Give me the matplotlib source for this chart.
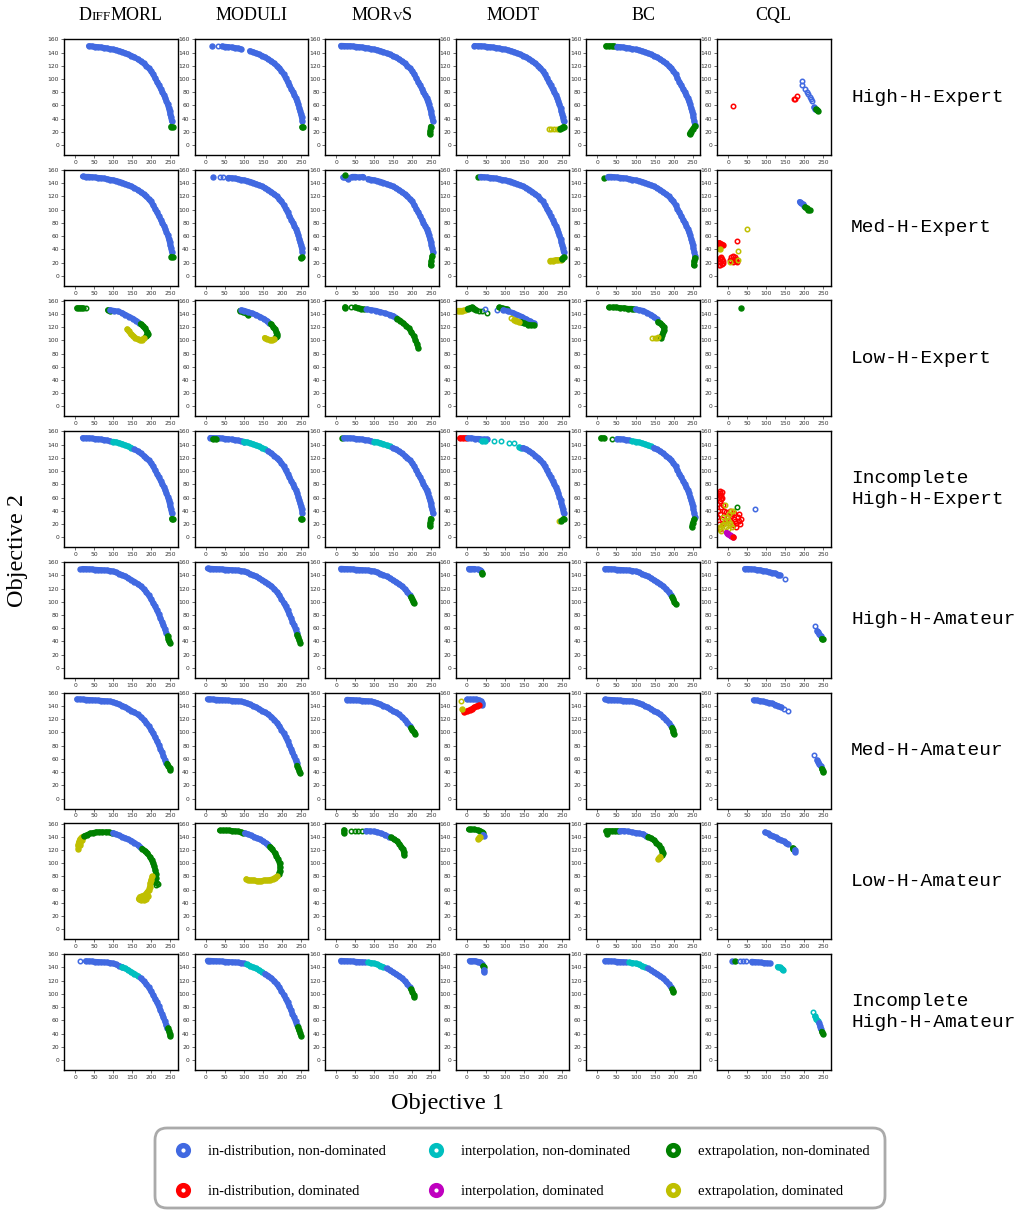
import matplotlib
matplotlib.use('Agg')
import matplotlib.pyplot as plt
from matplotlib.patches import FancyBboxPatch

# column / row labels
METHODS = ['DiffMORL', 'MODULI', 'MORvS', 'MODT', 'BC', 'CQL']
DATASETS = ['High-H-Expert', 'Med-H-Expert', 'Low-H-Expert', 'Incomplete\nHigh-H-Expert',
            'High-H-Amateur', 'Med-H-Amateur', 'Low-H-Amateur', 'Incomplete\nHigh-H-Amateur']

# point categories
CATS = ['ind', 'ind_d', 'int', 'int_d', 'ext', 'ext_d']
CAT_LABELS = ['in-distribution, non-dominated', 'in-distribution, dominated',
              'interpolation, non-dominated', 'interpolation, dominated',
              'extrapolation, non-dominated', 'extrapolation, dominated']
COLORS = {'ind': 'royalblue', 'ind_d': 'r', 'int': 'c', 'int_d': 'm', 'ext': 'g', 'ext_d': 'y'}

# Pareto fronts (objective 1, objective 2)
EXP_X = [12, 20, 28, 36, 44, 52, 60, 68, 76, 84, 92, 100, 108, 116, 124, 132, 140, 148, 156, 164,
         172, 180, 187, 193, 199, 205, 210, 215, 220, 225, 229, 233, 237, 240, 243, 246, 248, 250,
         252, 254, 256]
EXP_Y = [150.5, 150.3, 150, 150, 149.5, 149, 148.5, 148, 147.3, 146.5, 145.5, 144.7, 143.8, 142.5,
         141, 139, 137.3, 135.3, 133, 130.3, 127, 123.5, 120, 116.5, 112.5, 107, 101.5, 96, 90.5,
         85, 80.5, 76, 71, 66.5, 61.5, 56, 51.5, 47, 42, 36, 30]
AMA_X = [5, 12, 20, 28, 36, 44, 52, 60, 68, 76, 84, 92, 100, 108, 116, 124, 132, 140, 148, 156,
         164, 172, 180, 187, 193, 199, 205, 210, 215, 220, 224, 228, 232, 236, 239, 242, 245, 248, 250]
AMA_Y = [150.5, 150.3, 150, 149.8, 149.5, 149.2, 148.8, 148.5, 148.2, 147.8, 147.5, 147, 146,
         144.5, 142.5, 140.5, 138.5, 136, 133, 130.5, 127.5, 124, 119.5, 115, 110, 104.5, 98.5, 93,
         87, 81, 75.5, 70, 64.5, 58.5, 53.5, 48.5, 44, 40, 36.5]
FRONTS = {'E': (EXP_X, EXP_Y), 'A': (AMA_X, AMA_Y)}

# segments: (cat, front, x_from, x_to) or (cat, xs, ys, style)  style 'b' = dense band, 'o' = open dots
HIGH_H_EXPERT = [
    [('ind', 'E', 36, 254), ('ext', [252, 256], [28, 27], 'b')],
    [('ind', [16], [150], 'b'), ('ind', [33], [150], 'o'), ('ind', 'E', 44, 92), ('ind', 'E', 116, 254),
     ('ext', [253, 256], [28, 28], 'b')],
    [('ind', 'E', 12, 254), ('ext', [248, 247, 246], [28, 22, 17], 'b')],
    [('ind', 'E', 20, 100), ('ind', 'E', 108, 254), ('ext_d', [215, 222, 229, 236, 241], [24, 24, 24, 24, 24], 'o'),
     ('ext', [245, 250, 254], [25, 26, 28], 'b')],
    [('ext', [22, 30, 38, 44], [150, 150, 150, 150], 'b'), ('ind', 'E', 48, 256),
     ('ext', [256, 250, 245, 242], [29, 24, 20, 17], 'b')],
    [('ind_d', [14], [59], 'o'), ('ind_d', [174, 176, 181], [69, 70, 74], 'o'),
     ('ind', [194, 194, 203, 208, 211, 214, 217, 220], [97, 91, 85, 80, 77, 73, 70, 66], 'o'),
     ('ind', [226, 229], [57, 55], 'b'), ('ext', [231, 234, 237], [54, 53, 52], 'b')],
]
MED_H_EXPERT = [
    [('ind', 'E', 20, 254), ('ext', [253, 256], [29, 28], 'b')],
    [('ind', [18], [150], 'b'), ('ind', [38, 46], [150, 150], 'o'), ('ind', 'E', 60, 254),
     ('ext', [250, 254], [27, 28], 'b')],
    [('ind', [18, 30, 42, 50, 60, 70], [149, 147, 150, 150, 149, 150], 'b'), ('ext', [23], [152], 'b'),
     ('ind', 'E', 84, 254), ('ext', [252, 250, 248], [30, 23, 16], 'b')],
    [('ext', [29], [150], 'b'), ('ind', 'E', 36, 254), ('ind', [113], [143], 'o'),
     ('ext_d', [219, 226, 233, 240, 246], [23, 23, 24, 24, 24], 'b'), ('ext', [250, 254], [26, 28], 'b')],
    [('ext', [17], [148], 'b'), ('ind', 'E', 28, 256), ('ext', [256, 254, 253], [27, 22, 16], 'b')],
    [('ind_d', [-23, -18, -14, -20], [50, 48, 47, 46], 'b'), ('ext_d', [-20], [41], 'b'),
     ('ind_d', [24], [53], 'o'),
     ('ind_d', [-24, -22, -20, -18, -15, -12, -16, -20, -22, -13], [17, 21, 25, 28, 25, 22, 18, 16, 27, 19], 'o'),
     ('ind_d', [4, 8, 12, 16, 20, 24, 14, 8, 18, 22], [24, 28, 30, 26, 23, 21, 21, 22, 29, 25], 'o'),
     ('ext_d', [4, 27, 26, 50], [21, 24, 37, 71], 'o'),
     ('ind', [188, 192, 196, 200], [112, 110, 108, 106], 'b'),
     ('ext', [202, 206, 210, 214], [104, 102, 100, 99], 'b')],
]
LOW_H_EXPERT = [
    [('ext', [5, 10, 16, 22], [149, 149, 149, 149], 'b'), ('ext', [30], [149], 'o'),
     ('ext', [86, 92], [146, 145], 'b'),
     ('ind', [92, 102, 112, 122, 132, 142, 152, 160, 168], [146, 145, 144, 142, 139, 136, 133, 130, 127], 'b'),
     ('ext', [172, 178, 184, 189, 191, 190, 186], [125, 122, 118, 113, 110, 108, 106], 'b'),
     ('ext_d', [137, 141, 146, 152, 158, 164, 170, 176, 180], [117, 114, 110, 107, 104, 102, 101, 101, 103], 'b')],
    [('ext', [90, 98, 106, 112], [145, 143, 141, 139], 'b'),
     ('ind', [94, 102, 112, 122, 132, 142, 152, 160, 167], [146, 145, 143, 141, 139, 136, 133, 130, 127], 'b'),
     ('ext', [171, 177, 182, 186, 188, 187, 184], [125, 121, 117, 113, 110, 107, 105], 'b'),
     ('ext_d', [155, 162, 168, 174, 180], [104, 102, 101, 101, 102], 'b')],
    [('ext', [24, 24], [151, 149], 'b'), ('ext', [40], [150], 'o'),
     ('ext', [50, 58, 66, 73], [150, 149, 148, 147], 'b'), ('ind', [77], [147], 'o'),
     ('ind', [81, 92, 104, 116, 128, 140, 150, 158], [147, 146, 145, 143, 141, 139, 137, 134], 'b'),
     ('ext', [160, 168, 176, 184, 191, 197, 203, 208, 212, 215], [133, 130, 126, 122, 118, 113, 107, 101, 95, 89], 'b')],
    [('ext_d', [-24, -18, -12, -6], [145, 145, 145, 146], 'b'),
     ('ext', [2, 8, 14, 20, 24], [148, 149, 150, 148, 146], 'b'),
     ('ext', [32, 41, 52], [145, 144, 142], 'o'), ('ind', [47, 80], [147, 146], 'o'),
     ('ext', [85, 92, 100, 106], [150, 149, 148, 147], 'b'),
     ('ind', [96, 108, 120, 132, 144, 156, 166, 176], [146, 144, 142, 139, 136, 132, 129, 126], 'b'),
     ('ext', [141, 150, 160, 168, 176], [128, 126, 124, 123, 123], 'b'),
     ('ext_d', [115], [134], 'o'), ('ext_d', [124, 130, 137], [131, 130, 128], 'b')],
    [('ext', [30, 40, 50, 60, 70, 80, 90, 96], [150, 150, 150, 149, 149, 148, 148, 147], 'b'),
     ('ind', [100, 110, 120, 130, 140, 148, 156], [147, 146, 145, 142, 139, 136, 132], 'b'),
     ('ext', [159, 165, 170, 174, 175, 173, 170, 166], [128, 126, 123, 120, 116, 112, 108, 104], 'b'),
     ('ext_d', [144, 150, 156, 160], [103, 103, 103, 105], 'o')],
    [('ext', [33], [149], 'b')],
]
INC_HIGH_H_EXPERT = [
    [('ind', 'E', 17, 92), ('int', 'E', 96, 152), ('ind', 'E', 156, 254), ('ext', [254, 256], [28, 27], 'b')],
    [('ind', 'E', 12, 100), ('ext', [20, 28], [149, 149], 'b'), ('int', 'E', 100, 156),
     ('ind', 'E', 164, 254), ('ext', [250, 254], [28, 28], 'b')],
    [('ext', [16], [150], 'b'), ('ind', 'E', 20, 92), ('int', 'E', 100, 140), ('ind', 'E', 148, 254),
     ('ext', [248, 247, 246], [28, 22, 17], 'b')],
    [('ind_d', [-17, -10, -3], [150, 150, 150], 'b'),
     ('ind', [2, 12, 22, 32, 44, 54], [150, 150, 149, 149, 148, 148], 'b'),
     ('int', [40, 47], [146, 146], 'b'), ('int', [71, 89, 111, 124], [146, 145, 143, 142], 'o'),
     ('int', [138, 142], [136, 135], 'b'), ('ind', 'E', 148, 254),
     ('ext_d', [241], [25], 'o'), ('ext', [248, 254], [25, 28], 'b')],
    [('ext', [9, 16], [150, 150], 'b'), ('ext', [39], [148], 'o'), ('ind', 'E', 52, 84),
     ('int', 'E', 87, 144), ('ind', 'E', 148, 256), ('ext', [254, 250, 248], [27, 21, 16], 'b')],
    [('ind_d', [-22, -20, -18, -22, -19, -21, -16, -17], [70, 67, 64, 62, 58, 55, 60, 68], 'o'),
     ('ind_d', [-26, -28, -25, -22, -20, -15, -10, -5, 0, 5, 10, 15, 20, 25, 30, 35, 32, 22, 12, -18,
                -10, 5, 15, 28, -28, -12, 8, 18],
      [40, 30, 20, 12, 35, 28, 22, 38, 30, 25, 35, 28, 22, 30, 25, 28, 20, 15, 18, 45,
       40, 40, 37, 35, 50, 48, 32, 25], 'o'),
     ('ext_d', [-24, -20, -15, -10, -5, 0, 5, -8, -3, 2, 8, 4, -18, 10, -12, 0],
      [12, 15, 18, 20, 15, 12, 18, 25, 30, 35, 40, 22, 10, 15, 30, 26], 'o'),
     ('ext_d', [-9, 12], [48, 40], 'o'),
     ('int_d', [-4, 0, 4, 8, 12], [7, 5, 3, 2, 1], 'b'), ('ind_d', [14], [0], 'b'),
     ('ext', [24], [46], 'o'), ('ind', [72], [43], 'o')],
]
HIGH_H_AMATEUR = [
    [('ind', [13], [150], 'b'), ('ind', 'A', 20, 240), ('ext', [243, 245, 247, 250], [48, 44, 40, 37], 'b')],
    [('ind', 'A', 5, 239), ('ext', [240, 243, 246, 249], [50, 46, 42, 38], 'b')],
    [('ind', 'A', 12, 193), ('ext', [196, 199, 201, 203], [107, 104, 101, 98], 'b')],
    [('ind', [5, 12, 20, 28, 34, 38], [150, 150, 150, 149, 148, 146], 'b'), ('ext', [40, 41], [144, 142], 'b')],
    [('ind', 'A', 20, 193), ('ext', [196, 199, 202, 205], [107, 104, 100, 97], 'b')],
    [('ind', [44, 52, 60, 68, 76, 84, 92, 100, 108, 116, 124, 132, 137],
      [150, 150, 149.5, 149, 148.5, 148, 147, 146, 145, 144, 143, 141, 140], 'b'),
     ('ind', [150, 227], [135, 63], 'o'), ('ind', [234, 237, 240, 243], [56, 54, 51, 48], 'b'),
     ('ext', [246, 249], [44, 43], 'b')],
]
MED_H_AMATEUR = [
    [('ind', 'A', 3, 240), ('ext', [242, 245, 248, 250], [53, 49, 46, 43], 'b')],
    [('ind', 'A', 5, 239), ('ext', [240, 243, 246, 249], [50, 46, 42, 38], 'b')],
    [('ind', 'A', 27, 193), ('ext', [196, 200, 204, 207], [107, 104, 101, 98], 'b')],
    [('ind', [0, 8, 16, 24, 32, 38, 41, 40], [150, 150, 150, 150, 149, 147, 144, 141], 'b'),
     ('ind_d', [-7, 0, 7, 14, 20, 26, 32], [131, 132, 134, 136, 138, 140, 141], 'b'),
     ('ext_d', [-16], [148], 'o'), ('ext_d', [-13], [136], 'b')],
    [('ind', 'A', 20, 193), ('ext', [196, 198, 199, 200], [107, 104, 101, 98], 'b')],
    [('ind', [67, 75, 83, 91, 99, 107, 115, 124, 132, 140], [149, 148.5, 148, 147, 146, 145, 144, 142, 140, 138], 'b'),
     ('ind', [148, 157, 226], [136, 132, 66], 'o'), ('ind', [234, 237, 240, 243], [58, 55, 52, 49], 'b'),
     ('ext', [246, 249, 250], [45, 42, 40], 'b')],
]
LOW_H_AMATEUR = [
    [('ext_d', [9, 8, 10, 13, 17, 22, 18, 14], [122, 127, 132, 136, 139, 140, 135, 128], 'b'),
     ('ext', [24, 32, 40, 48, 56, 64, 72, 80, 88, 96], [141, 143, 145, 146, 147, 147, 147, 147, 147, 146], 'b'),
     ('ind', [100, 108, 116, 124, 132, 140, 148, 156, 164, 170], [146, 144, 142, 140, 138, 136, 134, 131, 128, 125], 'b'),
     ('ext', [176, 183, 190, 196, 201, 205, 208, 211, 213, 212, 209], [122, 119, 115, 110, 105, 100, 95, 89, 83, 77, 72], 'b'),
     ('ext', [215, 218, 212], [70, 69, 67], 'o'),
     ('ext_d', [203, 200, 198, 196, 194, 190, 185, 180, 175, 170, 167, 172, 180, 187, 192],
      [80, 75, 70, 64, 60, 56, 53, 51, 50, 49, 46, 44, 44, 46, 50], 'b')],
    [('ext', [37, 45, 53, 61, 69, 77, 85, 93, 99], [149.5, 149.5, 149.5, 149.5, 149, 148.5, 148, 147, 146], 'b'),
     ('ind', [103, 111, 119, 127, 135, 143, 151, 159, 165], [145.5, 144, 142, 140, 138, 136, 133, 130, 128], 'b'),
     ('ext', [169, 175, 181, 186, 190, 194, 196, 195, 192], [125, 121, 116, 111, 106, 100, 94, 88, 84], 'b'),
     ('ext_d', [188, 182, 176, 170, 164, 158, 152, 146, 140, 134, 128, 122, 116, 110, 107],
      [80, 78, 76, 75, 74, 74, 74, 73, 73, 73, 74, 74, 74, 75, 76], 'b')],
    [('ext', [20, 20], [150, 146], 'b'), ('ext', [38, 48, 58, 68], [149, 149, 149, 149], 'o'),
     ('ind', [78, 88, 98, 108, 118, 128, 138], [149, 148.5, 148, 147, 145, 143, 140], 'b'),
     ('ext', [144, 152, 160, 166, 171, 175, 177, 178], [139, 136, 133, 129, 125, 121, 117, 113], 'b')],
    [('ext', [5, 12, 20, 28, 34, 39, 42], [151, 151, 151, 150, 149, 147, 145], 'b'),
     ('ind', [43, 44], [143, 141], 'b'), ('ext_d', [30, 32, 34], [137, 138, 140], 'b')],
    [('ext', [23, 30, 38, 46, 54], [149, 149, 149, 149, 149], 'b'), ('ext', [24], [144], 'b'),
     ('ind', [60, 70, 80, 90, 100, 110, 120, 128], [149, 149, 148, 147, 146, 145, 144, 141], 'b'),
     ('ext', [134, 140, 148, 155, 161, 166, 170, 171, 170], [140, 138, 135, 131, 127, 123, 119, 115, 112], 'b'),
     ('ext_d', [165, 162, 160], [110, 108, 106], 'b')],
    [('ind', [97, 104, 111, 118, 125, 132, 139, 146, 152, 157], [147, 145, 143, 141, 139, 137, 135, 133, 131, 129], 'b'),
     ('ext', [170, 171], [123, 121], 'b'), ('ind', [177, 177], [120, 117], 'b')],
]
INC_HIGH_H_AMATEUR = [
    [('ind', [12], [150], 'o'), ('ind', 'A', 28, 124), ('int', 'A', 124, 168), ('ind', 'A', 172, 242),
     ('ext', [244, 246, 248, 250], [48, 44, 40, 36], 'b')],
    [('ind', 'A', 5, 100), ('int', 'A', 108, 148), ('ind', 'A', 156, 239),
     ('ext', [242, 245, 248, 250], [50, 45, 41, 37], 'b')],
    [('ind', 'A', 12, 76), ('int', 'A', 84, 124), ('ind', 'A', 132, 193),
     ('ext', [196, 200, 203, 205], [107, 103, 99, 95], 'b')],
    [('ind', [7, 14, 21, 28, 35, 40], [150, 150, 150, 149, 148, 145], 'b'), ('ext', [43, 44], [142, 140], 'b'),
     ('ind', [44, 44], [136, 133], 'b')],
    [('ind', 'A', 20, 76), ('int', 'A', 84, 124), ('ind', 'A', 132, 193), ('ext', [196, 198, 199], [107, 105, 103], 'b')],
    [('ind', [11], [150], 'b'), ('ext', [17], [150], 'b'), ('ind', [32, 40, 48], [150, 150, 150], 'o'),
     ('ind', [62, 70, 78, 86, 94, 102, 110], [149, 148.5, 148, 147.5, 147, 146.5, 146], 'b'),
     ('int', [130, 136, 142, 145], [141, 140, 138, 136], 'b'), ('int', [223], [73], 'o'),
     ('int', [228, 232, 236], [66, 62, 59], 'b'), ('ind', [239, 241, 243], [56, 52, 47], 'b'),
     ('ext', [246, 249], [43, 40], 'b')],
]
ROWS = [HIGH_H_EXPERT, MED_H_EXPERT, LOW_H_EXPERT, INC_HIGH_H_EXPERT,
        HIGH_H_AMATEUR, MED_H_AMATEUR, LOW_H_AMATEUR, INC_HIGH_H_AMATEUR]

SERIF = 'Liberation Serif'
MONO = 'Liberation Mono'
W, H = 1022, 1211


def draw_panel(ax, segs):
    for seg in segs:
        cat = seg[0]
        col = COLORS[cat]
        if isinstance(seg[1], str):
            fx, fy = FRONTS[seg[1]]
            pts = [(x, y) for x, y in zip(fx, fy) if seg[2] <= x <= seg[3]]
            xs = [p[0] for p in pts]
            ys = [p[1] for p in pts]
            style = 'b'
        else:
            xs, ys, style = seg[1], seg[2], seg[3]
        if style == 'b':
            ax.plot(xs, ys, '-', color=col, lw=4.0, solid_capstyle='round', solid_joinstyle='round')
            ax.plot(xs, ys, 'o', ms=3.6, mfc=col, mec=col, mew=1.0)
        else:
            ax.plot(xs, ys, 'o', ms=3.2, mfc='none', mec=col, mew=1.1)


fig = plt.figure(figsize=(W / 100, H / 100), dpi=100)

for r, row in enumerate(ROWS):
    top = 39 + r * 130.7
    for c, segs in enumerate(row):
        left = 64 + c * 130.6
        ax = fig.add_axes([left / W, 1 - (top + 116) / H, 113.5 / W, 116 / H])
        draw_panel(ax, segs)
        ax.set_xlim(-29, 269)
        ax.set_ylim(-15, 160.5)
        ax.set_xticks(range(0, 251, 50))
        ax.set_yticks(range(0, 161, 20))
        ax.tick_params(labelsize=4.3, length=2, width=0.5, pad=1.5, colors='#333333')
        for sp in ax.spines.values():
            sp.set_linewidth(1.0)
    fig.text(851 / W, 1 - (top + 58) / H, DATASETS[r], family=MONO, fontsize=14,
             ha='left', va='center', linespacing=1.25)

# column titles (small caps pieces)
renderer = fig.canvas.get_renderer()
TITLE_PARTS = {'DiffMORL': [('D', 13), ('IFF', 9.5), ('MORL', 13)],
               'MORvS': [('MOR', 13), ('V', 9.5), ('S', 13)]}
for c, name in enumerate(METHODS):
    cx = 64 + c * 130.6 + 56.75
    ty = 1 - 20 / H
    parts = TITLE_PARTS.get(name, [(name, 13)])
    widths = []
    for txt, size in parts:
        t = fig.text(0, 0, txt, family=SERIF, fontsize=size)
        widths.append(t.get_window_extent(renderer).width)
        t.remove()
    x = cx - sum(widths) / 2
    for (txt, size), w in zip(parts, widths):
        fig.text(x / W, ty, txt, family=SERIF, fontsize=size, ha='left', va='baseline')
        x += w

fig.text(18 / W, 1 - 550 / H, 'Objective 2', family=SERIF, fontsize=17.5, rotation=90,
         ha='center', va='center')
fig.text(447 / W, 1 - 1104 / H, 'Objective 1', family=SERIF, fontsize=17.5,
         ha='center', va='center')

# legend box
lax = fig.add_axes([150 / W, 1 - 1211 / H, 740 / W, 88 / H])
lax.set_xlim(0, 740)
lax.set_ylim(88, 0)
lax.axis('off')
lax.add_patch(FancyBboxPatch((5, 5), 730, 80, boxstyle='round,pad=0,rounding_size=12',
                             fc='white', ec='#aaaaaa', lw=2.0, clip_on=False))
for i, (cat, lab) in enumerate(zip(CATS, CAT_LABELS)):
    col_i, row_i = i // 2, i % 2
    mx = [33, 286, 523][col_i]
    my = [27, 67][row_i]
    lax.plot([mx], [my], 'o', ms=7.0, mfc='none', mec=COLORS[cat], mew=3.9, clip_on=False)
    lax.text(mx + 25, my + 1, lab, family=SERIF, fontsize=10.5, ha='left', va='center')

fig.savefig('out.png', dpi=100)
